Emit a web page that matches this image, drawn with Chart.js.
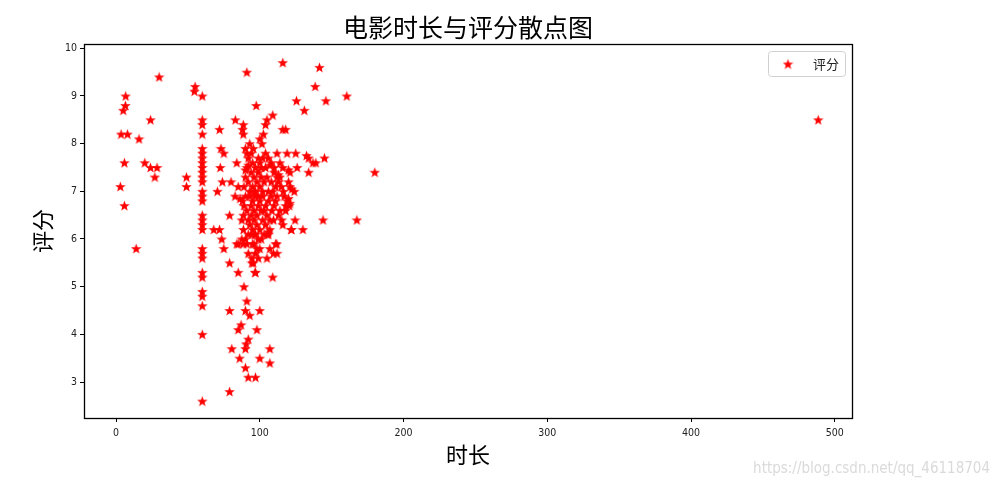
<!DOCTYPE html>
<html>
<head>
<meta charset="utf-8">
<script src="https://cdn.jsdelivr.net/npm/chart.js@4"></script>
<style>
  body { margin: 0; background: #fff; }
  #wrap { width: 1001px; height: 488px; position: relative; }
</style>
</head>
<body>
<div id="wrap"><canvas id="scatterChart"></canvas></div>
<script>
// Movie length (minutes) and rating
const durations = [
    3, 3.5, 8, 6.7, 6.5, 5, 5.8, 5.8, 16, 24, 30, 20, 24, 28.5, 27, 14, 49, 49, 55, 54.5, 60,
    60, 60, 60, 60, 60, 60, 60, 60, 60, 60, 60, 60, 60, 60, 60, 60, 60, 60, 60, 60, 60, 60, 60, 60, 60, 60, 60, 60,
    91, 116, 141.5, 138.5, 160.5, 125.5, 146, 97.5, 131, 109, 105, 104, 83, 88.5, 88, 88.5, 72, 116, 118, 102.5,
    100, 101.5, 93, 95.5, 90, 73, 75, 112, 119, 125, 134, 137, 139, 145, 180, 134, 72.5, 84, 70.5, 74, 80, 85,
    79, 144, 167.5, 121, 120, 121, 119, 120.5, 124.5, 130, 114, 113, 91, 92, 90, 92, 99, 106, 120, 113, 107, 132.5,
    68, 72, 73.5, 75, 79, 85, 97, 109, 89, 91, 79, 90, 93, 100, 87, 85, 98, 92, 90.5, 90, 80.5, 107, 86, 100, 107,
    90, 92, 97, 79,
    100, 105, 109.5, 112, 111, 92, 94.5, 94.5, 95.5, 87.5, 91, 94.5, 96.5, 85, 88.5, 106, 107, 122, 84,
    82.8, 86.3, 88.6, 87.5, 88.6, 108.4, 114, 115.3, 109.5, 121.8, 111.8, 106, 105, 96.7, 120, 121, 116.4, 122.3,
    90, 92, 94, 95, 96, 97, 98, 99, 100, 101, 102, 103, 104, 105, 106, 108, 110, 111,
    93, 94, 95, 96, 97, 98, 99, 100, 101, 102, 104, 106, 108, 110, 112,
    91, 92, 93, 94, 95, 96, 97, 98, 99, 100, 102, 103, 104, 90, 92, 96, 98,
    95, 97, 100, 102, 104, 108, 110, 112, 114, 116, 115, 117, 113, 118,
    93, 89, 88, 89, 90, 91, 94, 96, 99, 101, 103, 105, 107, 109, 111,
    95, 97, 99, 101, 107, 116, 118, 124, 126,
    488.5
];
const ratings = [
    7.1, 8.2, 8.2, 9.0, 8.8, 8.7, 7.6, 6.7, 8.1, 8.5, 9.4, 7.6, 7.5, 7.5, 7.3, 5.8, 7.3, 7.1, 9.2, 9.1, 9.0,
    8.5, 8.4, 8.2, 7.9, 7.8, 7.7, 7.6, 7.5, 7.4, 7.3, 7.2, 7.0, 6.9, 6.8, 6.5, 6.4, 6.3, 6.2, 5.8, 5.7, 5.6, 5.3, 5.2, 4.9, 4.8, 4.6, 4.0, 2.6,
    9.5, 9.7, 9.6, 9.2, 9.0, 8.9, 8.9, 8.8, 8.7, 8.6, 8.5, 8.4, 8.5, 8.4, 8.3, 8.2, 8.3, 8.3, 8.3, 8.2,
    8.1, 8.0, 8.0, 7.9, 7.9, 7.9, 7.8, 7.8, 7.8, 7.8, 7.7, 7.6, 7.6, 7.7, 7.4, 7.4, 7.5, 7.6, 7.0, 7.2, 7.2, 7.1,
    6.5, 6.4, 6.4, 7.4, 7.2, 7.1, 6.8, 6.7, 6.4, 6.2, 7.3, 7.2, 7.8, 7.55, 7.45, 7.7, 7.7, 7.7, 7.45, 7.35, 7.55, 7.75,
    6.2, 6.2, 6.0, 5.8, 5.5, 5.3, 5.3, 5.2, 5.0, 4.7, 4.5, 4.5, 4.4, 4.5, 4.2, 4.1, 4.1, 3.9, 3.8, 3.7, 3.7, 3.7, 3.5, 3.5, 3.4,
    3.3, 3.1, 3.1, 2.8,
    5.8, 5.6, 5.7, 5.7, 5.9, 5.7, 5.6, 5.5, 5.5, 6.0, 5.9, 6.1, 6.1, 5.9, 5.9, 6.1, 6.2, 6.2, 5.9,
    6.9, 6.85, 6.5, 6.4, 6.2, 6.6, 6.6, 6.4, 6.4, 6.2, 5.9, 6.15, 6.1, 5.3, 6.85, 6.75, 7.0, 7.05,
    7.3, 7.2, 7.4, 7.1, 7.3, 7.0, 7.2, 7.4, 7.1, 7.3, 7.0, 7.2, 7.5, 7.3, 7.0, 7.2, 7.4, 7.1,
    6.9, 6.7, 6.8, 6.6, 6.9, 6.5, 6.7, 6.8, 6.6, 6.9, 6.7, 6.8, 6.9, 6.7, 6.9,
    6.6, 6.4, 6.3, 6.5, 6.2, 6.4, 6.1, 6.3, 6.0, 6.2, 6.4, 6.1, 6.3, 6.0, 6.1, 5.9, 5.8,
    7.6, 7.5, 7.6, 7.7, 7.8, 7.6, 7.5, 7.3, 7.6, 7.5, 7.1, 6.9, 6.5, 6.6,
    7.0, 7.1, 6.8, 6.7, 6.9, 7.5, 7.8, 7.0, 6.9, 7.5, 6.6, 6.5, 6.4, 7.0, 6.8,
    5.9, 5.7, 5.6, 6.0, 5.8, 6.3, 6.7, 7.0, 7.5,
    8.5
];
const xTicks = [0, 100, 200, 300, 400, 500];
const yTicks = [3, 4, 5, 6, 7, 8, 9, 10];

// Filled five-point star used as the marker
function makeStar(size, color) {
    const c = document.createElement('canvas');
    c.width = size;
    c.height = size;
    const g = c.getContext('2d');
    const cx = size / 2, cy = size / 2 + 0.5;
    const outer = size / 2, inner = outer * 0.42;
    g.beginPath();
    for (let i = 0; i < 10; i++) {
        const r = i % 2 === 0 ? outer : inner;
        const a = -Math.PI / 2 + i * Math.PI / 5;
        g.lineTo(cx + r * Math.cos(a), cy + r * Math.sin(a));
    }
    g.closePath();
    g.fillStyle = color;
    g.fill();
    return c;
}
const starMarker = makeStar(11, '#ff0000');

const cjkFont = '"Noto Sans CJK SC", "Noto Sans", sans-serif';
const tickFont = { family: '"DejaVu Sans Condensed", "DejaVu Sans", sans-serif', size: 10.5 };

// Frame, title, axis titles, legend and watermark
const decorations = {
    id: 'decorations',
    afterDraw(chart) {
        const ctx = chart.ctx;
        const a = chart.chartArea;
        ctx.save();
        ctx.strokeStyle = '#000';
        ctx.lineWidth = 1.3;
        ctx.strokeRect(a.left + 0.5, a.top + 0.5, a.right - a.left, a.bottom - a.top);

        const midX = (a.left + a.right) / 2;
        ctx.fillStyle = '#000';
        ctx.textAlign = 'center';
        ctx.textBaseline = 'middle';
        ctx.font = '25px ' + cjkFont;
        ctx.fillText('电影时长与评分散点图', midX, 27);

        ctx.font = '22px ' + cjkFont;
        ctx.fillText('时长', midX, 455);
        ctx.save();
        ctx.translate(43, (a.top + a.bottom) / 2);
        ctx.rotate(-Math.PI / 2);
        ctx.fillText('评分', 0, 0);
        ctx.restore();

        // legend box
        const lx = 768, ly = 51, lw = 77, lh = 25;
        ctx.beginPath();
        ctx.roundRect(lx + 0.5, ly + 0.5, lw, lh, 3);
        ctx.fillStyle = 'rgba(255,255,255,0.8)';
        ctx.fill();
        ctx.strokeStyle = '#d0d0d0';
        ctx.lineWidth = 1;
        ctx.stroke();
        ctx.drawImage(starMarker, 788 - 5.5, 64 - 5.5, 11, 11);
        ctx.fillStyle = '#222';
        ctx.font = '13px ' + cjkFont;
        ctx.textAlign = 'left';
        ctx.fillText('评分', 813, 64);

        // watermark
        ctx.fillStyle = 'rgba(205,205,205,0.75)';
        ctx.font = '15px "Liberation Sans Narrow", "DejaVu Sans Condensed", sans-serif';
        ctx.textAlign = 'right';
        ctx.fillText('https://blog.csdn.net/qq_46118704', 990, 469);
        ctx.restore();
    }
};

const points = durations.map((d, i) => ({ x: d, y: ratings[i] }));

new Chart(document.getElementById('scatterChart'), {
    type: 'scatter',
    data: {
        datasets: [{
            label: '评分',
            data: points,
            pointStyle: starMarker,
            pointRadius: 5.5,
            pointHoverRadius: 5.5
        }]
    },
    options: {
        responsive: true,
        maintainAspectRatio: false,
        animation: false,
        layout: { padding: { left: 0, top: 44, right: 149, bottom: 0 } },
        plugins: {
            legend: { display: false },
            tooltip: { enabled: false }
        },
        scales: {
            x: {
                type: 'linear',
                min: -22.3,
                max: 512,
                afterBuildTicks: scale => { scale.ticks = xTicks.map(v => ({ value: v })); },
                afterFit: scale => { scale.height = 70; },
                grid: { drawOnChartArea: false, color: '#000', tickLength: 4 },
                border: { display: true, color: '#000' },
                ticks: { color: '#222', font: tickFont, padding: 5, maxRotation: 0 }
            },
            y: {
                type: 'linear',
                min: 2.245,
                max: 10.09,
                afterBuildTicks: scale => { scale.ticks = yTicks.map(v => ({ value: v })); },
                afterFit: scale => { scale.width = 84; },
                grid: { drawOnChartArea: false, color: '#000', tickLength: 4 },
                border: { display: true, color: '#000' },
                ticks: { color: '#222', font: tickFont, padding: 3 }
            }
        }
    },
    plugins: [decorations]
});
</script>
</body>
</html>
